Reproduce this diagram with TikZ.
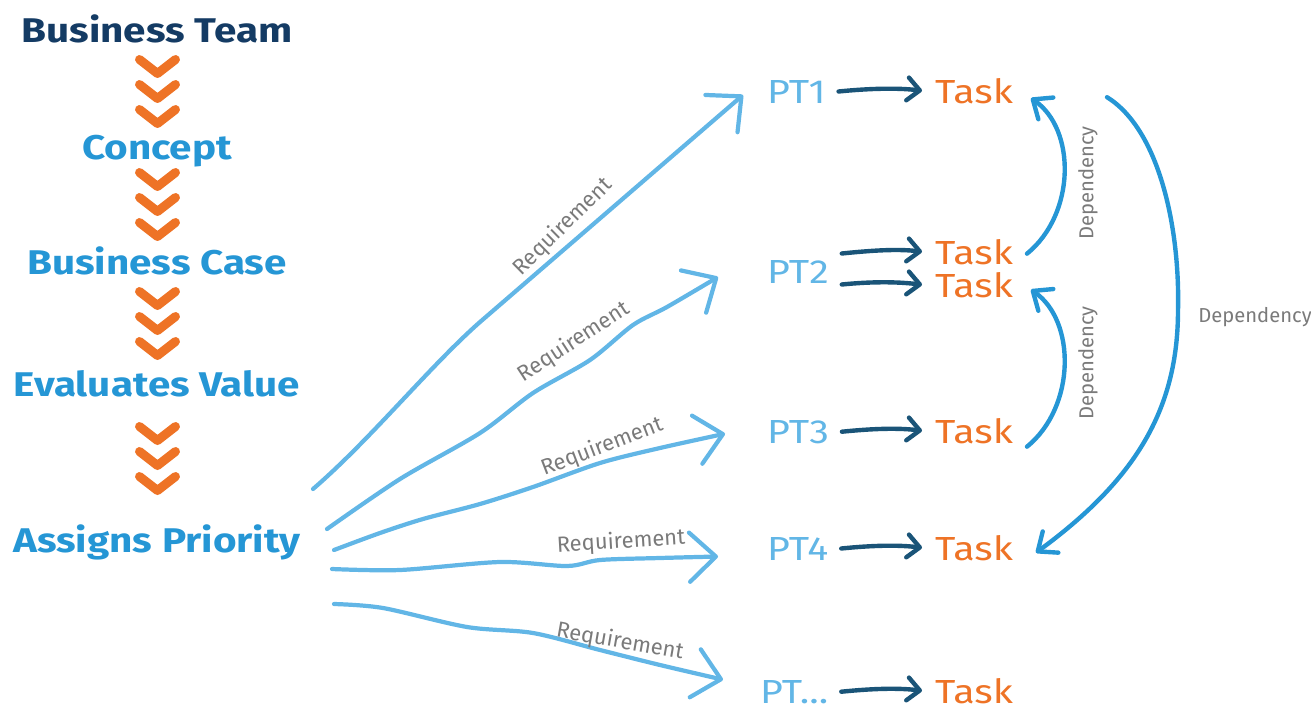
\documentclass[tikz,border=0pt]{standalone}
\usepackage{fontspec}
\setmainfont{Fira Sans}
\newfontfamily\widesans{Fira Sans}[FakeStretch=1.18]
\usetikzlibrary{arrows.meta,calc}

\definecolor{navy}{HTML}{143B64}
\definecolor{cblue}{HTML}{2596D5}
\definecolor{corange}{HTML}{EE7326}
\definecolor{lblue}{HTML}{62B6E6}
\definecolor{darrow}{HTML}{1A5478}
\definecolor{cgray}{HTML}{7A7A7A}

\begin{document}
\begin{tikzpicture}[x=0.02cm, y=-0.02cm,
  title/.style={font=\widesans\fontsize{19.5}{22}\selectfont\bfseries, text=cblue, inner sep=0, anchor=base},
  chevron/.style={draw=corange, line width=5.1pt, line cap=round, line join=round},
  ptlabel/.style={font=\widesans\fontsize{19}{22}\selectfont, text=lblue, inner ysep=0, inner xsep=0, outer xsep=7.4pt, outer ysep=0, anchor=base west},
  tasklabel/.style={font=\widesans\fontsize{19}{22}\selectfont, text=corange, inner ysep=0, inner xsep=0, outer xsep=7.4pt, outer ysep=0, anchor=base west},
  reqline/.style={draw=lblue, line width=2.4pt, line cap=round, line join=round,
    -{Straight Barb[length=15pt, width=28pt, round]}},
  taskline/.style={draw=darrow, line width=2.5pt, line cap=round,
    -{Straight Barb[length=7pt, width=13pt, round]}},
  depline/.style={draw=cblue, line width=2.5pt, line cap=round,
    -{Straight Barb[length=9pt, width=15pt, round]}},
  reqtext/.style={font=\fontsize{12.5}{14}\selectfont, text=cgray, inner sep=0},
  deptext/.style={font=\fontsize{11.5}{13}\selectfont, text=cgray, inner sep=0}]

\useasboundingbox (0,0) rectangle (1311,720);

% --- process column ---
\node[title, text=navy] (bt) at (157,42)  {Business Team};
\node[title] (cc) at (157,159) {Concept};
\node[title] (bc) at (157,274) {Business Case};
\node[title] (ev) at (157,396) {Evaluates Value};
\node[title] (ap) at (157,552) {Assigns Priority};

\foreach \yy in {59.5,84.5,109.5, 172.5,197.5,222.5, 291.5,316.5,341.5, 426.5,451.5,476.5}
  \draw[chevron] (139.5,\yy) -- (157.5,\yy+14) -- (175.5,\yy);

% --- project teams and their tasks (anchor includes the 13px outer gap) ---
\node[ptlabel] (pt1) at (754,103) {PT1};
\node[ptlabel] (pt2) at (754,283) {PT2};
\node[ptlabel] (pt3) at (754,443) {PT3};
\node[ptlabel] (pt4) at (754,560) {PT4};
\node[ptlabel] (pt5) at (747,703) {PT...};

\node[tasklabel] (t1)  at (922,103) {Task};
\node[tasklabel] (t2a) at (922,264) {Task};
\node[tasklabel] (t2b) at (922,297) {Task};
\node[tasklabel] (t3)  at (922,443) {Task};
\node[tasklabel] (t4)  at (922,560) {Task};
\node[tasklabel] (t5)  at (922,703) {Task};

\draw[taskline] (pt1.east) .. controls +(30,-3) and +(-25,-3) .. (t1.west);
\draw[taskline] ($(pt2.east)+(0,-18)$) .. controls +(30,-3) and +(-25,-3) .. (t2a.west);
\draw[taskline] ($(pt2.east)+(0,13)$) .. controls +(30,-3) and +(-25,-3) .. (t2b.west);
\draw[taskline] (pt3.east) .. controls +(30,-3) and +(-25,-3) .. (t3.west);
\draw[taskline] (pt4.east) .. controls +(30,-3) and +(-25,-3) .. (t4.west);
\draw[taskline] (pt5.east) .. controls +(30,-3) and +(-25,-3) .. (t5.west);

% --- requirements from the priority step ---
\coordinate (s1) at (313,489);
\coordinate (s2) at (327,529);
\coordinate (s3) at (334,550);
\coordinate (s4) at (332,569);
\coordinate (s5) at (334,604);
\coordinate (q1) at ($(pt1.west)+(-11,3.5)$);
\coordinate (q2) at ($(pt2.west)+(-36,5.5)$);
\coordinate (q3) at ($(pt3.west)+(-29,2)$);
\coordinate (q4) at ($(pt4.west)+(-36,8)$);
\coordinate (q5) at ($(pt5.west)+(-24,-12)$);

\draw[reqline] (s1) .. controls (370,440) and (430,366) .. (480,322) -- (q1);
\draw[reqline] plot[smooth, tension=0.5] coordinates
  {(s2) (400,479) (480,433) (533,393) (590,360) (633,325) (667,307) (q2)};
\draw[reqline] plot[smooth, tension=0.5] coordinates
  {(s3) (380,533) (423,519) (480,504) (533,487) (600,463) (660,448) (q3)};
\draw[reqline] plot[smooth, tension=0.5] coordinates
  {(s4) (400,570) (500,562) (567,566) (600,560) (660,558) (q4)};
\draw[reqline] plot[smooth, tension=0.5] coordinates
  {(s5) (383,608) (467,627) (533,633) (600,650) (660,665) (q5)};

\node[reqtext, rotate=44.5] (r1) at (563,227) {Requirement};
\node[reqtext, rotate=33]   (r2) at (574,342) {Requirement};
\node[reqtext, rotate=21]   (r3) at (602,447) {Requirement};
\node[reqtext, rotate=3.5]  (r4) at (621,542) {Requirement};
\node[reqtext, rotate=-10]  (r5) at (620,642) {Requirement};

% --- dependencies between tasks ---
\draw[depline] ($(t2a.east)+(1,2)$) .. controls +(49,-40) and +(45,31) .. ($(t1.east)+(5,7.5)$);
\draw[depline] ($(t3.east)+(1,16)$) .. controls +(49,-40) and +(45,31) .. ($(t2b.east)+(5,5)$);
\draw[depline] ($(t1.east)+(81,6.5)$) .. controls (1160,130) and (1180,230) .. (1178,310)
  .. controls (1178,410) and (1135,480) .. ($(t4.east)+(10,5)$);

\node[deptext, rotate=90] (d1) at (1088,183) {Dependency};
\node[deptext, rotate=90] (d2) at (1088,363) {Dependency};
\node[deptext]            (d3) at (1255,317) {Dependency};

\end{tikzpicture}
\end{document}
